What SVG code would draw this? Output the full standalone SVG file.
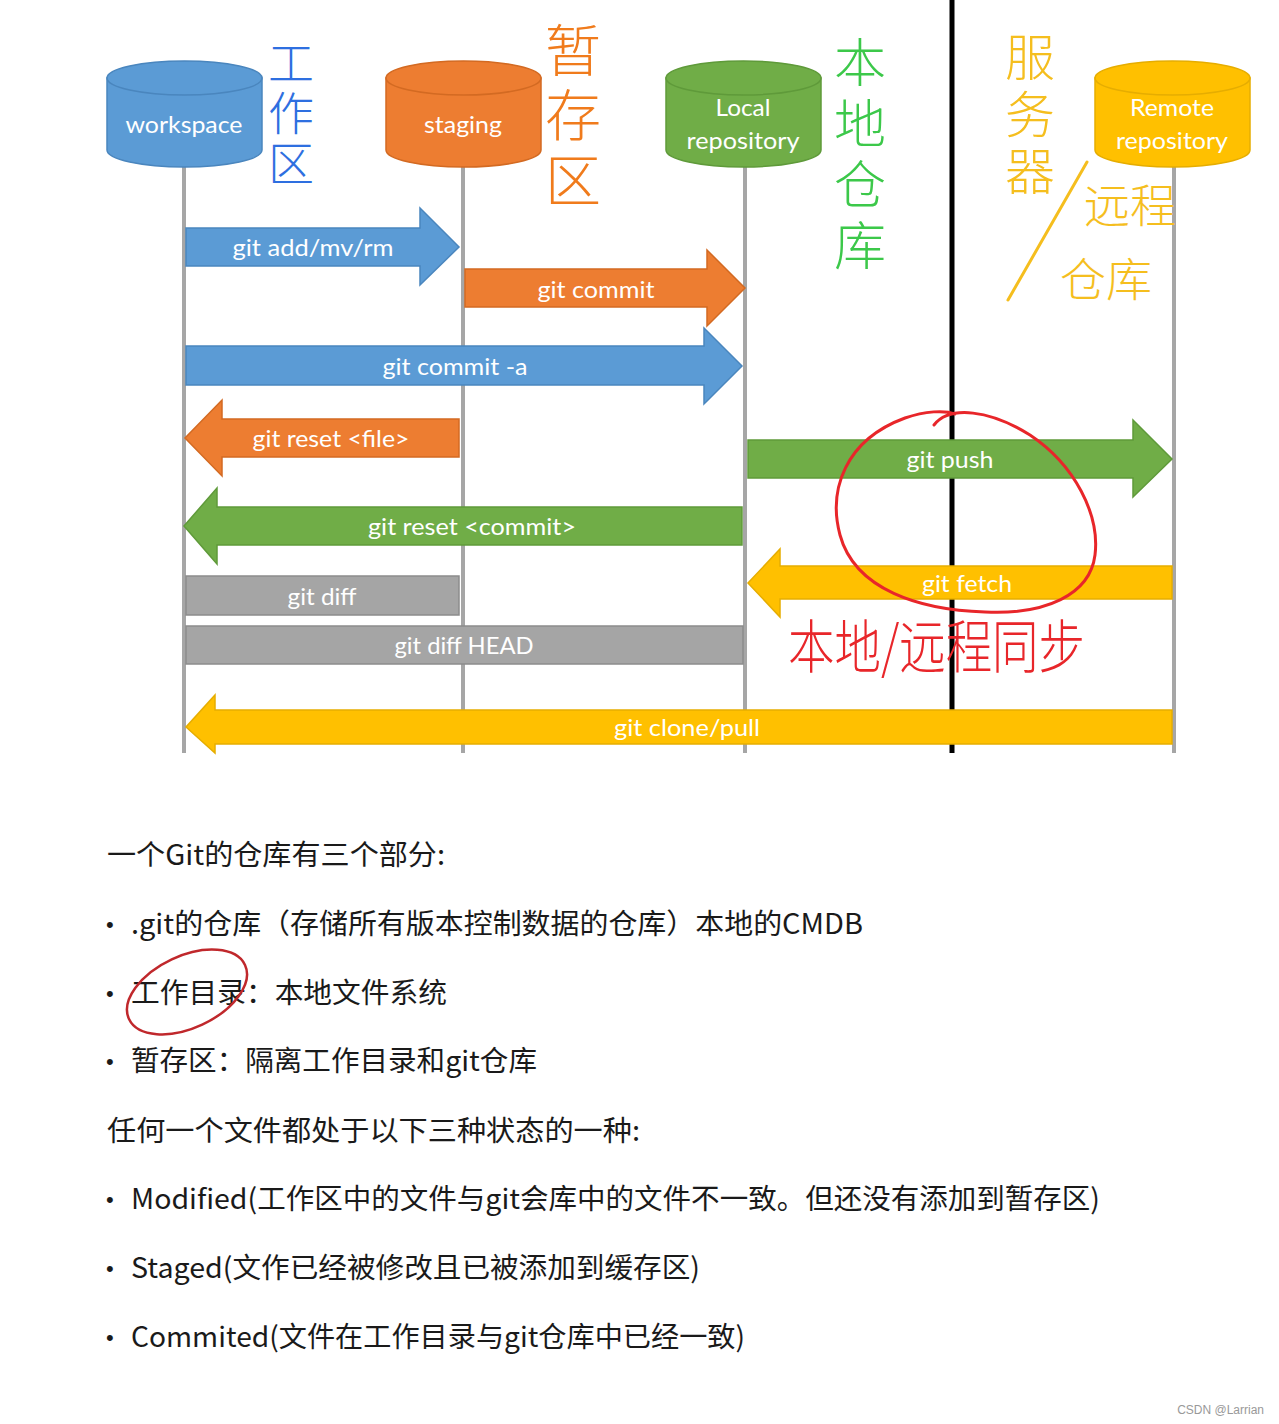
<svg xmlns="http://www.w3.org/2000/svg" width="1279" height="1424" viewBox="0 0 1279 1424">
<style>
.lbl{font-family:Lato,"Open Sans","Liberation Sans",sans-serif;font-size:24px;fill:#ffffff;text-anchor:middle;dominant-baseline:central}
.life{stroke:#A6A6A6;stroke-width:4;fill:none}
.blue{fill:#5B9BD5;stroke:#4A86BE;stroke-width:1.5}
.orange{fill:#ED7D31;stroke:#D36A22;stroke-width:1.5}
.green{fill:#70AD47;stroke:#5F9A3A;stroke-width:1.5}
.yellow{fill:#FFC000;stroke:#E6AD00;stroke-width:1.5}
.gray{fill:#A5A5A5;stroke:#8C8C8C;stroke-width:1.5}
.body{font-family:"Noto Sans CJK SC","Liberation Sans",sans-serif;font-size:28px;fill:#1a1a1a}
.hand{font-family:"Noto Sans CJK SC",sans-serif;font-weight:300}
.vert{writing-mode:vertical-rl;text-orientation:upright}
.bul{font-family:"Liberation Sans",sans-serif;font-size:22px;fill:#1a1a1a}
</style>
<rect width="1279" height="1424" fill="#ffffff"/>

<g id="lifelines">
<line class="life" x1="184" y1="160" x2="184" y2="753"/>
<line class="life" x1="463" y1="160" x2="463" y2="753"/>
<line class="life" x1="745" y1="160" x2="745" y2="753"/>
<line class="life" x1="1174" y1="160" x2="1174" y2="753"/>
<line x1="952" y1="0" x2="952" y2="753" stroke="#000" stroke-width="5"/>
</g>

<g id="workspace">
<path class="blue" d="M107,78 V150 A77.5,17 0 0 0 262,150 V78 Z"/>
<ellipse class="blue" cx="184.5" cy="78" rx="77.5" ry="17"/>
<text class="lbl" x="184" y="123" textLength="117" lengthAdjust="spacingAndGlyphs">workspace</text>
</g>
<g id="staging">
<path class="orange" d="M386,78 V150 A77.5,17 0 0 0 541,150 V78 Z"/>
<ellipse class="orange" cx="463.5" cy="78" rx="77.5" ry="17"/>
<text class="lbl" x="463" y="123" textLength="78" lengthAdjust="spacingAndGlyphs">staging</text>
</g>
<g id="local">
<path class="green" d="M666,78 V150 A77.5,17 0 0 0 821,150 V78 Z"/>
<ellipse class="green" cx="743.5" cy="78" rx="77.5" ry="17"/>
<text class="lbl" x="743" y="106" textLength="55" lengthAdjust="spacingAndGlyphs">Local</text>
<text class="lbl" x="743" y="139" textLength="113" lengthAdjust="spacingAndGlyphs">repository</text>
</g>
<g id="remote">
<path class="yellow" d="M1095,78 V150 A77.5,17 0 0 0 1250,150 V78 Z"/>
<ellipse class="yellow" cx="1172.5" cy="78" rx="77.5" ry="17"/>
<text class="lbl" x="1172" y="106" textLength="84" lengthAdjust="spacingAndGlyphs">Remote</text>
<text class="lbl" x="1172" y="139" textLength="112" lengthAdjust="spacingAndGlyphs">repository</text>
</g>

<g id="connectors">
<g id="git-add"><path class="blue" d="M186,228 H420 V208 L459,247 L420,285 V266 H186 Z"/>
<text class="lbl" x="313" y="246" textLength="161" lengthAdjust="spacingAndGlyphs">git add/mv/rm</text></g>
<g id="git-commit"><path class="orange" d="M465,269 H707 V250 L745,288 L707,326 V307 H465 Z"/>
<text class="lbl" x="596" y="288" textLength="117" lengthAdjust="spacingAndGlyphs">git commit</text></g>
<g id="git-commit-a"><path class="blue" d="M186,346 H704 V328 L742,366 L704,404 V385 H186 Z"/>
<text class="lbl" x="455" y="365" textLength="145" lengthAdjust="spacingAndGlyphs">git commit -a</text></g>
<g id="git-reset-file"><path class="orange" d="M459,419 H222 V400 L185,438 L222,476 V457 H459 Z"/>
<text class="lbl" x="331" y="437" textLength="157" lengthAdjust="spacingAndGlyphs">git reset &lt;file&gt;</text></g>
<g id="git-push"><path class="green" d="M748,440 H1133 V420 L1172,459 L1133,497 V478 H748 Z"/>
<text class="lbl" x="950" y="458" textLength="87" lengthAdjust="spacingAndGlyphs">git push</text></g>
<g id="git-reset-commit"><path class="green" d="M742,507 H217 V488 L184,526 L217,564 V545 H742 Z"/>
<text class="lbl" x="472" y="525" textLength="208" lengthAdjust="spacingAndGlyphs">git reset &lt;commit&gt;</text></g>
<g id="git-fetch"><path class="yellow" d="M1172,566 H780 V549 L748,583 L780,617 V599 H1172 Z"/>
<text class="lbl" x="967" y="582" textLength="90" lengthAdjust="spacingAndGlyphs">git fetch</text></g>
<g id="git-diff"><rect class="gray" x="186" y="576" width="273" height="39"/>
<text class="lbl" x="322" y="595" textLength="69" lengthAdjust="spacingAndGlyphs">git diff</text></g>
<g id="git-diff-head"><rect class="gray" x="186" y="626" width="557" height="38"/>
<text class="lbl" x="464" y="644" textLength="139" lengthAdjust="spacingAndGlyphs">git diff HEAD</text></g>
<g id="git-clone"><path class="yellow" d="M1172,710 H215 V695 L186,727 L215,753 V744 H1172 Z"/>
<text class="lbl" x="687" y="726" textLength="146" lengthAdjust="spacingAndGlyphs">git clone/pull</text></g>
</g>

<g id="annotations">
<text class="hand vert" font-size="46" letter-spacing="4" fill="#2E6FE0" x="291" y="40">工作区</text>
<text class="hand vert" font-size="56" letter-spacing="9" fill="#F07B1C" x="573" y="22">暂存区</text>
<text class="hand vert" font-size="52" letter-spacing="9" fill="#3CC84A" x="860" y="36">本地仓库</text>
<text class="hand vert" font-size="50" letter-spacing="7" fill="#F5BE1E" x="1030" y="32">服务器</text>
<path d="M1087,162 L1008,300" stroke="#F5BE1E" stroke-width="3" fill="none" stroke-linecap="round"/>
<text class="hand" font-size="46" fill="#F5BE1E" x="1084" y="222">远程</text>
<text class="hand" font-size="46" fill="#F5BE1E" x="1060" y="296">仓库</text>
<path d="M934,425 C950,405 990,410 1030,435 C1075,465 1100,515 1095,555 C1090,595 1045,615 985,612 C920,610 855,590 840,535 C828,490 845,440 905,418 C925,411 945,410 955,414" stroke="#E8262A" stroke-width="3" fill="none" stroke-linecap="round"/>
<text class="hand" font-size="58" fill="#E8262A" x="788" y="668" textLength="297" lengthAdjust="spacingAndGlyphs">本地/远程同步</text>
</g>

<g id="notes">
<text class="body" x="107" y="865" textLength="338" lengthAdjust="spacingAndGlyphs">一个Git的仓库有三个部分:</text>
<text class="bul" x="106" y="932">•</text>
<text class="body" x="131" y="934" textLength="732" lengthAdjust="spacingAndGlyphs">.git的仓库（存储所有版本控制数据的仓库）本地的CMDB</text>
<text class="bul" x="106" y="1001">•</text>
<text class="body" x="131" y="1003" textLength="316" lengthAdjust="spacingAndGlyphs">工作目录：本地文件系统</text>
<ellipse cx="187" cy="992" rx="64" ry="36" transform="rotate(-25 187 992)" fill="none" stroke="#C0282C" stroke-width="2.5"/>
<text class="bul" x="106" y="1069">•</text>
<text class="body" x="131" y="1071" textLength="406" lengthAdjust="spacingAndGlyphs">暂存区：隔离工作目录和git仓库</text>
<text class="body" x="107" y="1141" textLength="533" lengthAdjust="spacingAndGlyphs">任何一个文件都处于以下三种状态的一种:</text>
<text class="bul" x="106" y="1207">•</text>
<text class="body" x="131" y="1209" textLength="969" lengthAdjust="spacingAndGlyphs">Modified(工作区中的文件与git会库中的文件不一致。但还没有添加到暂存区)</text>
<text class="bul" x="106" y="1276">•</text>
<text class="body" x="131" y="1278" textLength="569" lengthAdjust="spacingAndGlyphs">Staged(文作已经被修改且已被添加到缓存区)</text>
<text class="bul" x="106" y="1345">•</text>
<text class="body" x="131" y="1347" textLength="614" lengthAdjust="spacingAndGlyphs">Commited(文件在工作目录与git仓库中已经一致)</text>
<text x="1264" y="1414" font-family="'Liberation Sans',sans-serif" font-size="12" fill="#999999" text-anchor="end">CSDN @Larrian</text>
</g>
</svg>
